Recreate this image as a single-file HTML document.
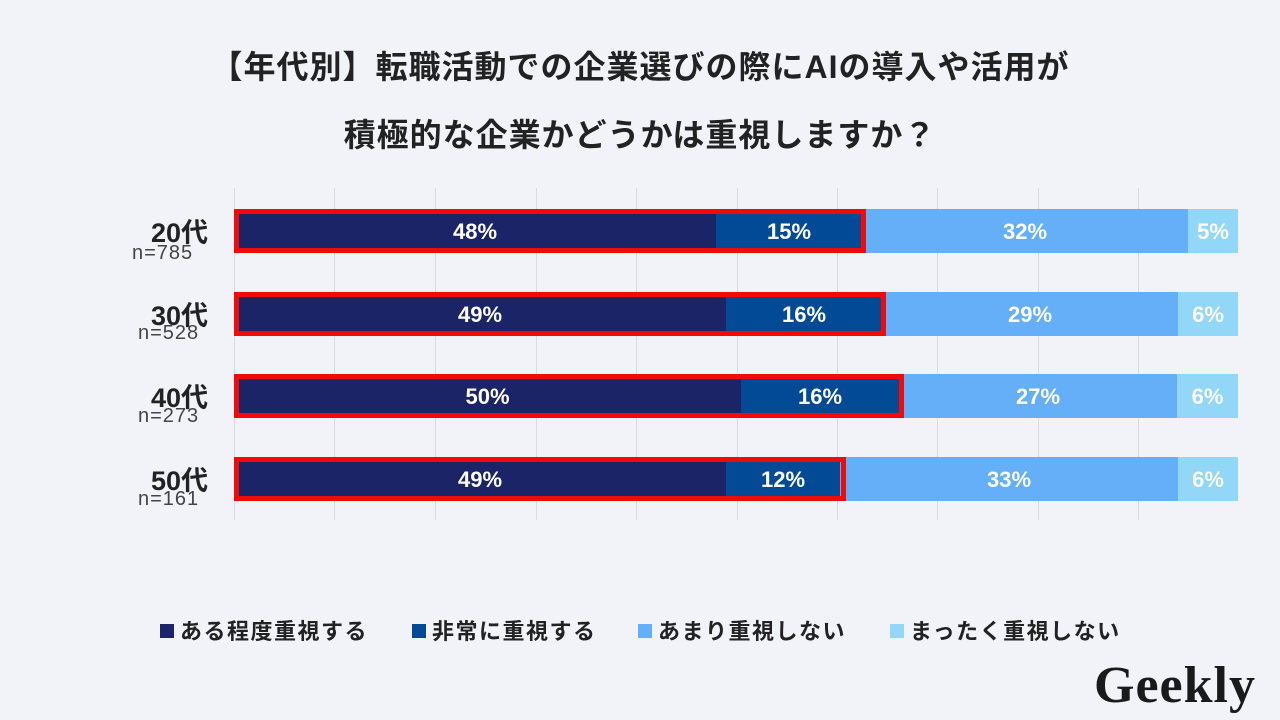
<!DOCTYPE html>
<html><head><meta charset="utf-8"><style>
body{margin:0;width:1280px;height:720px;background:#f2f3f8;position:relative;overflow:hidden;font-family:"Liberation Sans","Noto Sans CJK JP",sans-serif;}
.a{position:absolute}
.t{font-weight:bold;font-size:32px;letter-spacing:1px;color:#222;width:1280px;text-align:center;left:0}
.g{position:absolute;top:188px;height:332px;width:1px;background:#d9dbe2}
.s{position:absolute;height:44px;color:#fff;font-weight:bold;font-size:22px;line-height:45px;text-align:center}
.r{position:absolute;border:5px solid #f00a0a;box-sizing:border-box;height:44px;left:234px}
.lab{position:absolute;font-weight:bold;font-size:27px;color:#222;right:1072px;text-align:right}
.n{position:absolute;font-size:20px;letter-spacing:1px;color:#444}
.lg{position:absolute;top:614px;font-size:22px;letter-spacing:1.5px;font-weight:bold;color:#222}
.lg i{display:inline-block;width:14px;height:14px;margin-right:6px;vertical-align:1px}
</style></head><body>
<div class="a t" style="top:42px">【年代別】転職活動での企業選びの際にAIの導入や活用が</div>
<div class="a t" style="top:110px">積極的な企業かどうかは重視しますか？</div>
<div class="g" style="left:234px"></div><div class="g" style="left:334px"></div><div class="g" style="left:435px"></div><div class="g" style="left:536px"></div><div class="g" style="left:636px"></div><div class="g" style="left:737px"></div><div class="g" style="left:837px"></div><div class="g" style="left:937px"></div><div class="g" style="left:1038px"></div><div class="g" style="left:1138px"></div>

<div class="lab" style="top:211px">20代</div><div class="n" style="top:242px;left:132px">n=785</div>
<div class="s" style="top:209px;left:234px;width:482px;background:#1a2466">48%</div>
<div class="s" style="top:209px;left:716px;width:146px;background:#034a96">15%</div>
<div class="s" style="top:209px;left:862px;width:326px;background:#64aff7">32%</div>
<div class="s" style="top:209px;left:1188px;width:50px;background:#92d6f8">5%</div>
<div class="r" style="top:209px;width:632px"></div>

<div class="lab" style="top:294px">30代</div><div class="n" style="top:322px;left:138px">n=528</div>
<div class="s" style="top:292px;left:234px;width:492px;background:#1a2466">49%</div>
<div class="s" style="top:292px;left:726px;width:156px;background:#034a96">16%</div>
<div class="s" style="top:292px;left:882px;width:296px;background:#64aff7">29%</div>
<div class="s" style="top:292px;left:1178px;width:60px;background:#92d6f8">6%</div>
<div class="r" style="top:292px;width:652px"></div>

<div class="lab" style="top:376px">40代</div><div class="n" style="top:405px;left:138px">n=273</div>
<div class="s" style="top:374px;left:234px;width:507px;background:#1a2466">50%</div>
<div class="s" style="top:374px;left:741px;width:158px;background:#034a96">16%</div>
<div class="s" style="top:374px;left:899px;width:278px;background:#64aff7">27%</div>
<div class="s" style="top:374px;left:1177px;width:61px;background:#92d6f8">6%</div>
<div class="r" style="top:374px;width:670px"></div>

<div class="lab" style="top:459px">50代</div><div class="n" style="top:488px;left:138px">n=161</div>
<div class="s" style="top:457px;left:234px;width:492px;background:#1a2466">49%</div>
<div class="s" style="top:457px;left:726px;width:114px;background:#034a96">12%</div>
<div class="s" style="top:457px;left:840px;width:338px;background:#64aff7">33%</div>
<div class="s" style="top:457px;left:1178px;width:60px;background:#92d6f8">6%</div>
<div class="r" style="top:457px;width:612px"></div>

<div class="lg" style="left:160px"><i style="background:#1a2466"></i>ある程度重視する</div>
<div class="lg" style="left:412px"><i style="background:#034a96"></i>非常に重視する</div>
<div class="lg" style="left:638px"><i style="background:#64aff7"></i>あまり重視しない</div>
<div class="lg" style="left:890px"><i style="background:#92d6f8"></i>まったく重視しない</div>
<div class="a" style="left:1094px;top:654px;font-family:'Liberation Serif',serif;font-weight:bold;font-size:52px;letter-spacing:1px;color:#1a1a1a;line-height:64px">Geekly</div>
</body></html>
